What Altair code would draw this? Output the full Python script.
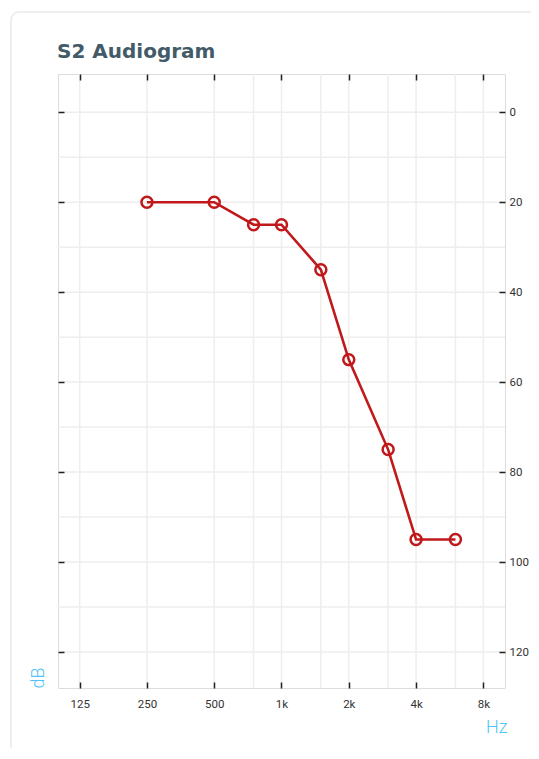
import altair as alt
import pandas as pd

FREQS = [250, 500, 750, 1000, 1500, 2000, 3000, 4000, 6000]
DB = [20, 20, 25, 25, 35, 55, 75, 95, 95]
TICK_HZ = [125, 250, 500, 1000, 2000, 4000, 8000]
GRID_HZ = [125, 250, 500, 750, 1000, 1500, 2000, 3000, 4000, 6000, 8000]
TICK_DB = [0, 20, 40, 60, 80, 100, 120]
GRID_DB = [0, 10, 20, 30, 40, 50, 60, 70, 80, 90, 100, 110, 120]

W, H = 447, 614
data = pd.DataFrame({"hz": FREQS, "db": DB})
grid_hz = pd.DataFrame({"hz": GRID_HZ})
grid_db = pd.DataFrame({"db": GRID_DB})

xscale = alt.Scale(type="log", domain=[100, 10000])
yscale = alt.Scale(domain=[-8.5, 128], reverse=True)

label_expr = "datum.value >= 1000 ? (datum.value/1000) + 'k' : datum.value + ''"
RED = "#c0181b"
TICK_IN = alt.ExprRef("-6")
BLUE = "#4fc3f7"
TICK_COLOR = "#222222"

card = alt.Chart(pd.DataFrame({"a": [0]})).mark_rect(
    fillOpacity=0, stroke="#eeeeee", strokeWidth=2, cornerRadius=8
).encode(
    x=alt.value(-47), x2=alt.value(W + 60), y=alt.value(-62), y2=alt.value(H + 120)
)

vgrid = alt.Chart(grid_hz).mark_rule(color="#eeeeee", strokeWidth=1.5).encode(
    x=alt.X("hz:Q", scale=xscale, axis=None)
)
hgrid = alt.Chart(grid_db).mark_rule(color="#eeeeee", strokeWidth=1.5).encode(
    y=alt.Y("db:Q", scale=yscale, axis=None)
)

line = alt.Chart(data).mark_line(color=RED, strokeWidth=2.6).encode(
    x=alt.X("hz:Q", scale=xscale, axis=alt.Axis(
        orient="bottom", values=TICK_HZ, labelExpr=label_expr, grid=False, zindex=2,
        tickSize=TICK_IN, tickColor=TICK_COLOR, tickWidth=1.5, domain=False,
        labelPadding=16, labelFont="Roboto", labelFontSize=11.5, labelColor="#333",
        title="Hz", titleAnchor="end", titleAlign="right", titleFont="Roboto",
        titleFontWeight=300, titleFontSize=18, titleColor=BLUE,
        titleX=W + 2, titleY=44, titleBaseline="alphabetic")),
    y=alt.Y("db:Q", scale=yscale, axis=alt.Axis(
        orient="left", values=TICK_DB, labels=False, grid=False, zindex=2,
        tickSize=TICK_IN, tickColor=TICK_COLOR, tickWidth=1.5, domain=False,
        title="dB", titleAngle=270, titleAlign="left", titleBaseline="middle",
        titleX=-20, titleY=H, titleFont="Roboto", titleFontWeight=300,
        titleFontSize=18, titleColor=BLUE)),
)

points = alt.Chart(data).mark_point(
    shape="circle", filled=False, color=RED, strokeWidth=2.5, size=120, opacity=1
).encode(
    x=alt.X("hz:Q", scale=xscale, axis=alt.Axis(
        orient="top", values=TICK_HZ, labels=False, grid=False, zindex=2,
        tickSize=TICK_IN, tickColor=TICK_COLOR, tickWidth=1.5, domain=False, title=None)),
    y=alt.Y("db:Q", scale=yscale, axis=alt.Axis(
        orient="right", values=TICK_DB, grid=False, zindex=2,
        tickSize=TICK_IN, tickColor=TICK_COLOR, tickWidth=1.5, domain=False,
        labelPadding=10, labelFont="Roboto", labelFontSize=11.5, labelColor="#333",
        title=None)),
)

chart = alt.layer(card, vgrid, hgrid, line, points).properties(
    width=W, height=H,
    title=alt.TitleParams("S2 Audiogram", anchor="start", frame="group",
                          font="DejaVu Sans", fontSize=20, fontWeight="bold",
                          color="#435b69", dx=-1, offset=-67, baseline="alphabetic"),
    autosize=alt.AutoSizeParams(type="none"),
    padding={"left": 50, "top": 66, "right": 26, "bottom": 60},
).configure_view(stroke="#333", strokeWidth=1.5).configure(background="white")

chart.save("out.html", embed_options={"renderer": "svg", "actions": False})
